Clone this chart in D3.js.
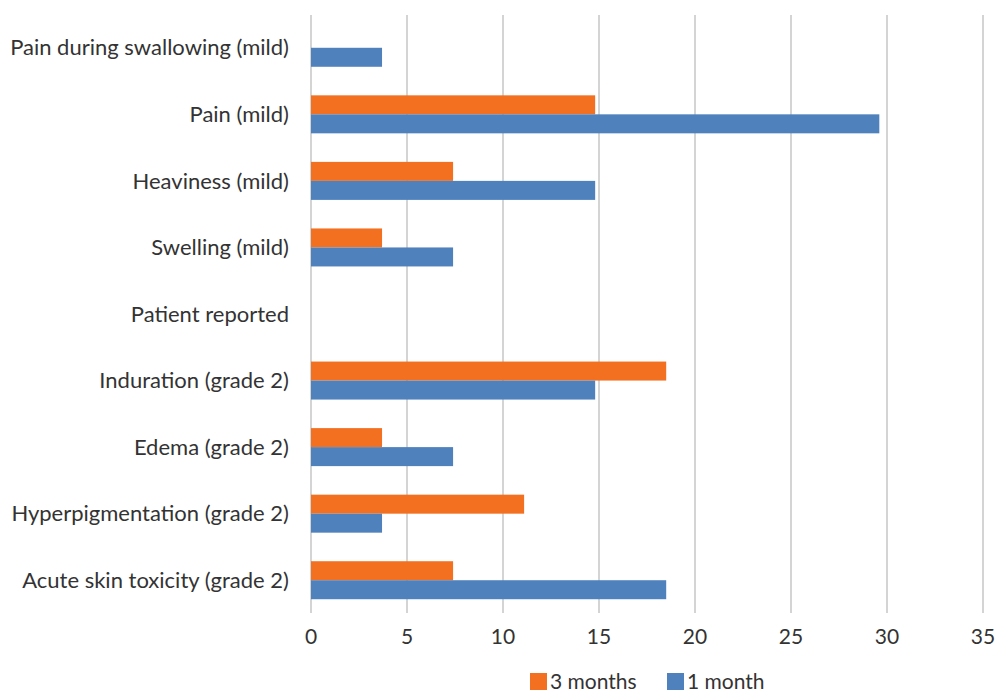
<!DOCTYPE html>
<html><head><meta charset="utf-8">
<script src="https://cdn.jsdelivr.net/npm/d3@7"></script>
<style>body{margin:0;background:#fff}svg{display:block}</style>
</head><body>
<svg id="c" width="995" height="692"></svg>
<script>
const categories = ["Pain during swallowing (mild)","Pain (mild)","Heaviness (mild)","Swelling (mild)","Patient reported","Induration (grade 2)","Edema (grade 2)","Hyperpigmentation (grade 2)","Acute skin toxicity (grade 2)"];
const months3 = [null,14.8,7.4,3.7,null,18.5,3.7,11.1,7.4];
const month1 = [3.7,29.6,14.8,7.4,null,14.8,7.4,3.7,18.5];
const xTicks = [0,5,10,15,20,25,30,35];
const seriesNames = ["3 months","1 month"];
const colors = ["#F37021","#4F81BD"];

const svg = d3.select("#c");
const font = "Lato, 'Open Sans', sans-serif";
const x = d3.scaleLinear().domain([0,35]).range([311,983]);
const y = d3.scaleBand().domain(categories).range([14.5,613.5]);
const barH = 19;

// gridlines
svg.append("g").selectAll("line").data(xTicks).join("line")
  .attr("x1",d=>x(d)).attr("x2",d=>x(d)).attr("y1",15).attr("y2",613)
  .attr("stroke","#c6c6c6").attr("stroke-width",1.5);

const series = [months3, month1];
series.forEach((vals,si)=>{
  svg.append("g").selectAll("rect").data(categories.map((c,i)=>({c,v:vals[i]})).filter(d=>d.v!=null))
    .join("rect")
    .attr("x",x(0)).attr("width",d=>x(d.v)-x(0))
    .attr("y",d=>y(d.c)+y.bandwidth()/2 + (si===0?-barH:0))
    .attr("height",barH).attr("fill",colors[si]);
});

// category labels
svg.append("g").selectAll("text").data(categories).join("text")
  .attr("x",289).attr("y",d=>y(d)+y.bandwidth()/2).attr("dy","0.35em")
  .attr("text-anchor","end").attr("font-family",font).attr("font-size",22)
  .attr("fill","#333").text(d=>d);

// x tick labels
svg.append("g").selectAll("text").data(xTicks).join("text")
  .attr("x",d=>x(d)).attr("y",637).attr("dy","0.35em").attr("text-anchor","middle")
  .attr("font-family",font).attr("font-size",21).attr("fill","#333").text(d=>d);

// legend
const leg = [{n:seriesNames[0],c:colors[0],x:530},{n:seriesNames[1],c:colors[1],x:667}];
leg.forEach(l=>{
  svg.append("rect").attr("x",l.x).attr("y",673).attr("width",17).attr("height",17).attr("fill",l.c);
  svg.append("text").attr("x",l.x+20).attr("y",682).attr("dy","0.35em")
    .attr("font-family",font).attr("font-size",21).attr("fill","#333").text(l.n);
});
</script>
</body></html>
